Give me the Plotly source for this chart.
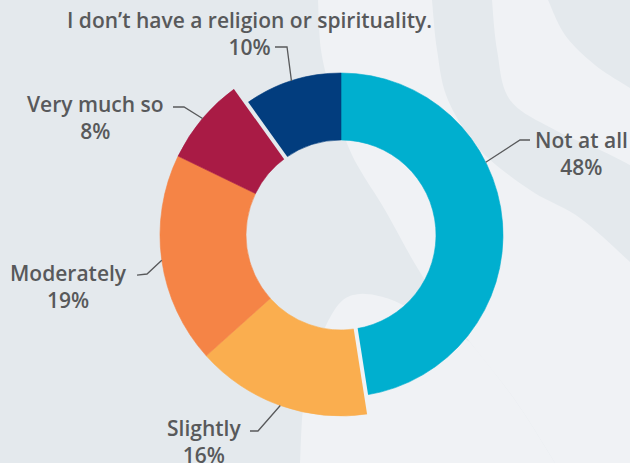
import math
import plotly.graph_objects as go

# --- data -------------------------------------------------------------
labels = ["Not at all", "Slightly", "Moderately", "Very much so",
          "I don’t have a religion or spirituality."]
values = [48, 16, 19, 8, 10]
colors = ["#00AFCF", "#FAAE4F", "#F58446", "#A91B45", "#023D7E"]

# --- styling ------------------------------------------------------------
W, H = 630, 463
CX, CY = 341, 235            # ring centre in pixels (from top-left)
AXIS_R = 195                 # radial axis extent == pixels
R_IN = 95
R_OUT = [162, 181, 181, 181, 162]
BG = "#E4E9ED"
BG_LIGHT = "#F0F2F5"
TEXT = "#58595B"
FONT = "Open Sans"
FONT_SIZE = 21

# where each leader line touches its slice (0 = slice start, 1 = slice end)
anchor_frac = [0.37, 0.5, 0.5, 0.5, 0.5]
# label block centres and leader elbows, in pixels
label_pos = [(581, 153), (204, 441), (68, 286), (95, 118), (249, 34)]
leader_pts = [
    [(530, 140), (520, 140)],
    [(250, 431), (258, 431)],
    [(137, 275), (147, 274)],
    [(173, 107), (184, 107)],
    [(275, 47), (287, 47)],
]
gap_after = {0: BG_LIGHT, 3: BG}   # thin separators after these slices

total = sum(values)
starts, acc = [], 0
for v in values:
    starts.append(acc)
    acc += v
deg = lambda share: share / total * 360.0
theta_mid = [deg(s + v / 2) for s, v in zip(starts, values)]
widths = [deg(v) for v in values]


def px_to_paper(x, y):
    return x / W, 1 - y / H


def polar_px(angle_deg, r):
    a = math.radians(angle_deg)
    return CX + r * math.sin(a), CY - r * math.cos(a)


def catmull(pts, n=10):
    out = []
    p = [pts[0]] + pts + [pts[-1]]
    for i in range(1, len(p) - 2):
        p0, p1, p2, p3 = p[i - 1], p[i], p[i + 1], p[i + 2]
        for k in range(n):
            t = k / n
            t2, t3 = t * t, t * t * t
            out.append(tuple(
                0.5 * ((2 * p1[j]) + (-p0[j] + p2[j]) * t
                       + (2 * p0[j] - 5 * p1[j] + 4 * p2[j] - p3[j]) * t2
                       + (-p0[j] + 3 * p1[j] - 3 * p2[j] + p3[j]) * t3)
                for j in range(2)))
    out.append(pts[-1])
    return out


def area(pts, color):
    coords = [px_to_paper(x, y) for x, y in pts]
    d = "M " + " L ".join(f"{x:.4f},{y:.4f}" for x, y in coords) + " Z"
    return dict(type="path", xref="paper", yref="paper", path=d,
                fillcolor=color, line_width=0, layer="below")


# --- background stripes -------------------------------------------------
c1 = catmull([(318, 0), (321, 50), (333, 100), (352, 155), (385, 210),
              (423, 277), (470, 342), (515, 400), (555, 463)])
c2 = catmull([(432, 0), (437, 50), (448, 100), (480, 150), (530, 190),
              (580, 218), (630, 262)])
c3 = catmull([(492, 0), (497, 50), (510, 100), (555, 130), (600, 150),
              (630, 165)])
c4 = catmull([(548, 0), (565, 35), (595, 65), (630, 88)])
bump = catmull([(300, 463), (304, 400), (318, 345), (338, 305), (360, 294),
                (392, 300), (425, 318), (470, 342)])

shapes = [
    area(c1 + [(630, 463), (630, 262)] + c2[::-1], BG_LIGHT),
    area(c3 + c4[::-1], BG_LIGHT),
    area(bump + catmull([(470, 342), (515, 400), (555, 463)]), BG_LIGHT),
]

# --- leader lines ---------------------------------------------------------
for i, pts in enumerate(leader_pts):
    ang = deg(starts[i] + values[i] * anchor_frac[i])
    end = polar_px(ang, R_OUT[i])
    coords = [px_to_paper(*p) for p in pts + [end]]
    d = "M " + " L ".join(f"{x:.4f},{y:.4f}" for x, y in coords)
    shapes.append(dict(type="path", xref="paper", yref="paper", path=d,
                       line=dict(color=TEXT, width=1.3), layer="above"))

fig = go.Figure()
fig.add_trace(go.Barpolar(
    r=[ro - R_IN for ro in R_OUT], base=R_IN,
    theta=theta_mid, width=widths,
    marker=dict(color=colors, line=dict(color=colors, width=0.6)),
    hoverinfo="skip",
))
for idx, col in gap_after.items():
    ang = deg(starts[idx] + values[idx])
    fig.add_trace(go.Scatterpolar(
        r=[R_IN - 4, max(R_OUT) + 4], theta=[ang, ang], mode="lines",
        line=dict(color=col, width=4), hoverinfo="skip",
    ))

annotations = []
label_font = dict(family=FONT, size=FONT_SIZE, color=TEXT, weight=600)
for i, (lab, v) in enumerate(zip(labels, values)):
    x, y = px_to_paper(*label_pos[i])
    annotations.append(dict(
        x=x, y=y, xref="paper", yref="paper", showarrow=False,
        text=f"{lab}<br>{v}%", align="center",
        xanchor="center", yanchor="middle", font=label_font,
    ))

fig.update_layout(
    width=W, height=H, margin=dict(l=0, r=0, t=0, b=0),
    paper_bgcolor=BG, plot_bgcolor=BG, showlegend=False,
    polar=dict(
        domain=dict(x=[(CX - AXIS_R) / W, (CX + AXIS_R) / W],
                    y=[(H - CY - AXIS_R) / H, (H - CY + AXIS_R) / H]),
        bgcolor="rgba(0,0,0,0)",
        radialaxis=dict(range=[0, AXIS_R], visible=False),
        angularaxis=dict(rotation=90, direction="clockwise", visible=False),
    ),
    shapes=shapes,
    annotations=annotations,
)

fig.write_html("out.html")
